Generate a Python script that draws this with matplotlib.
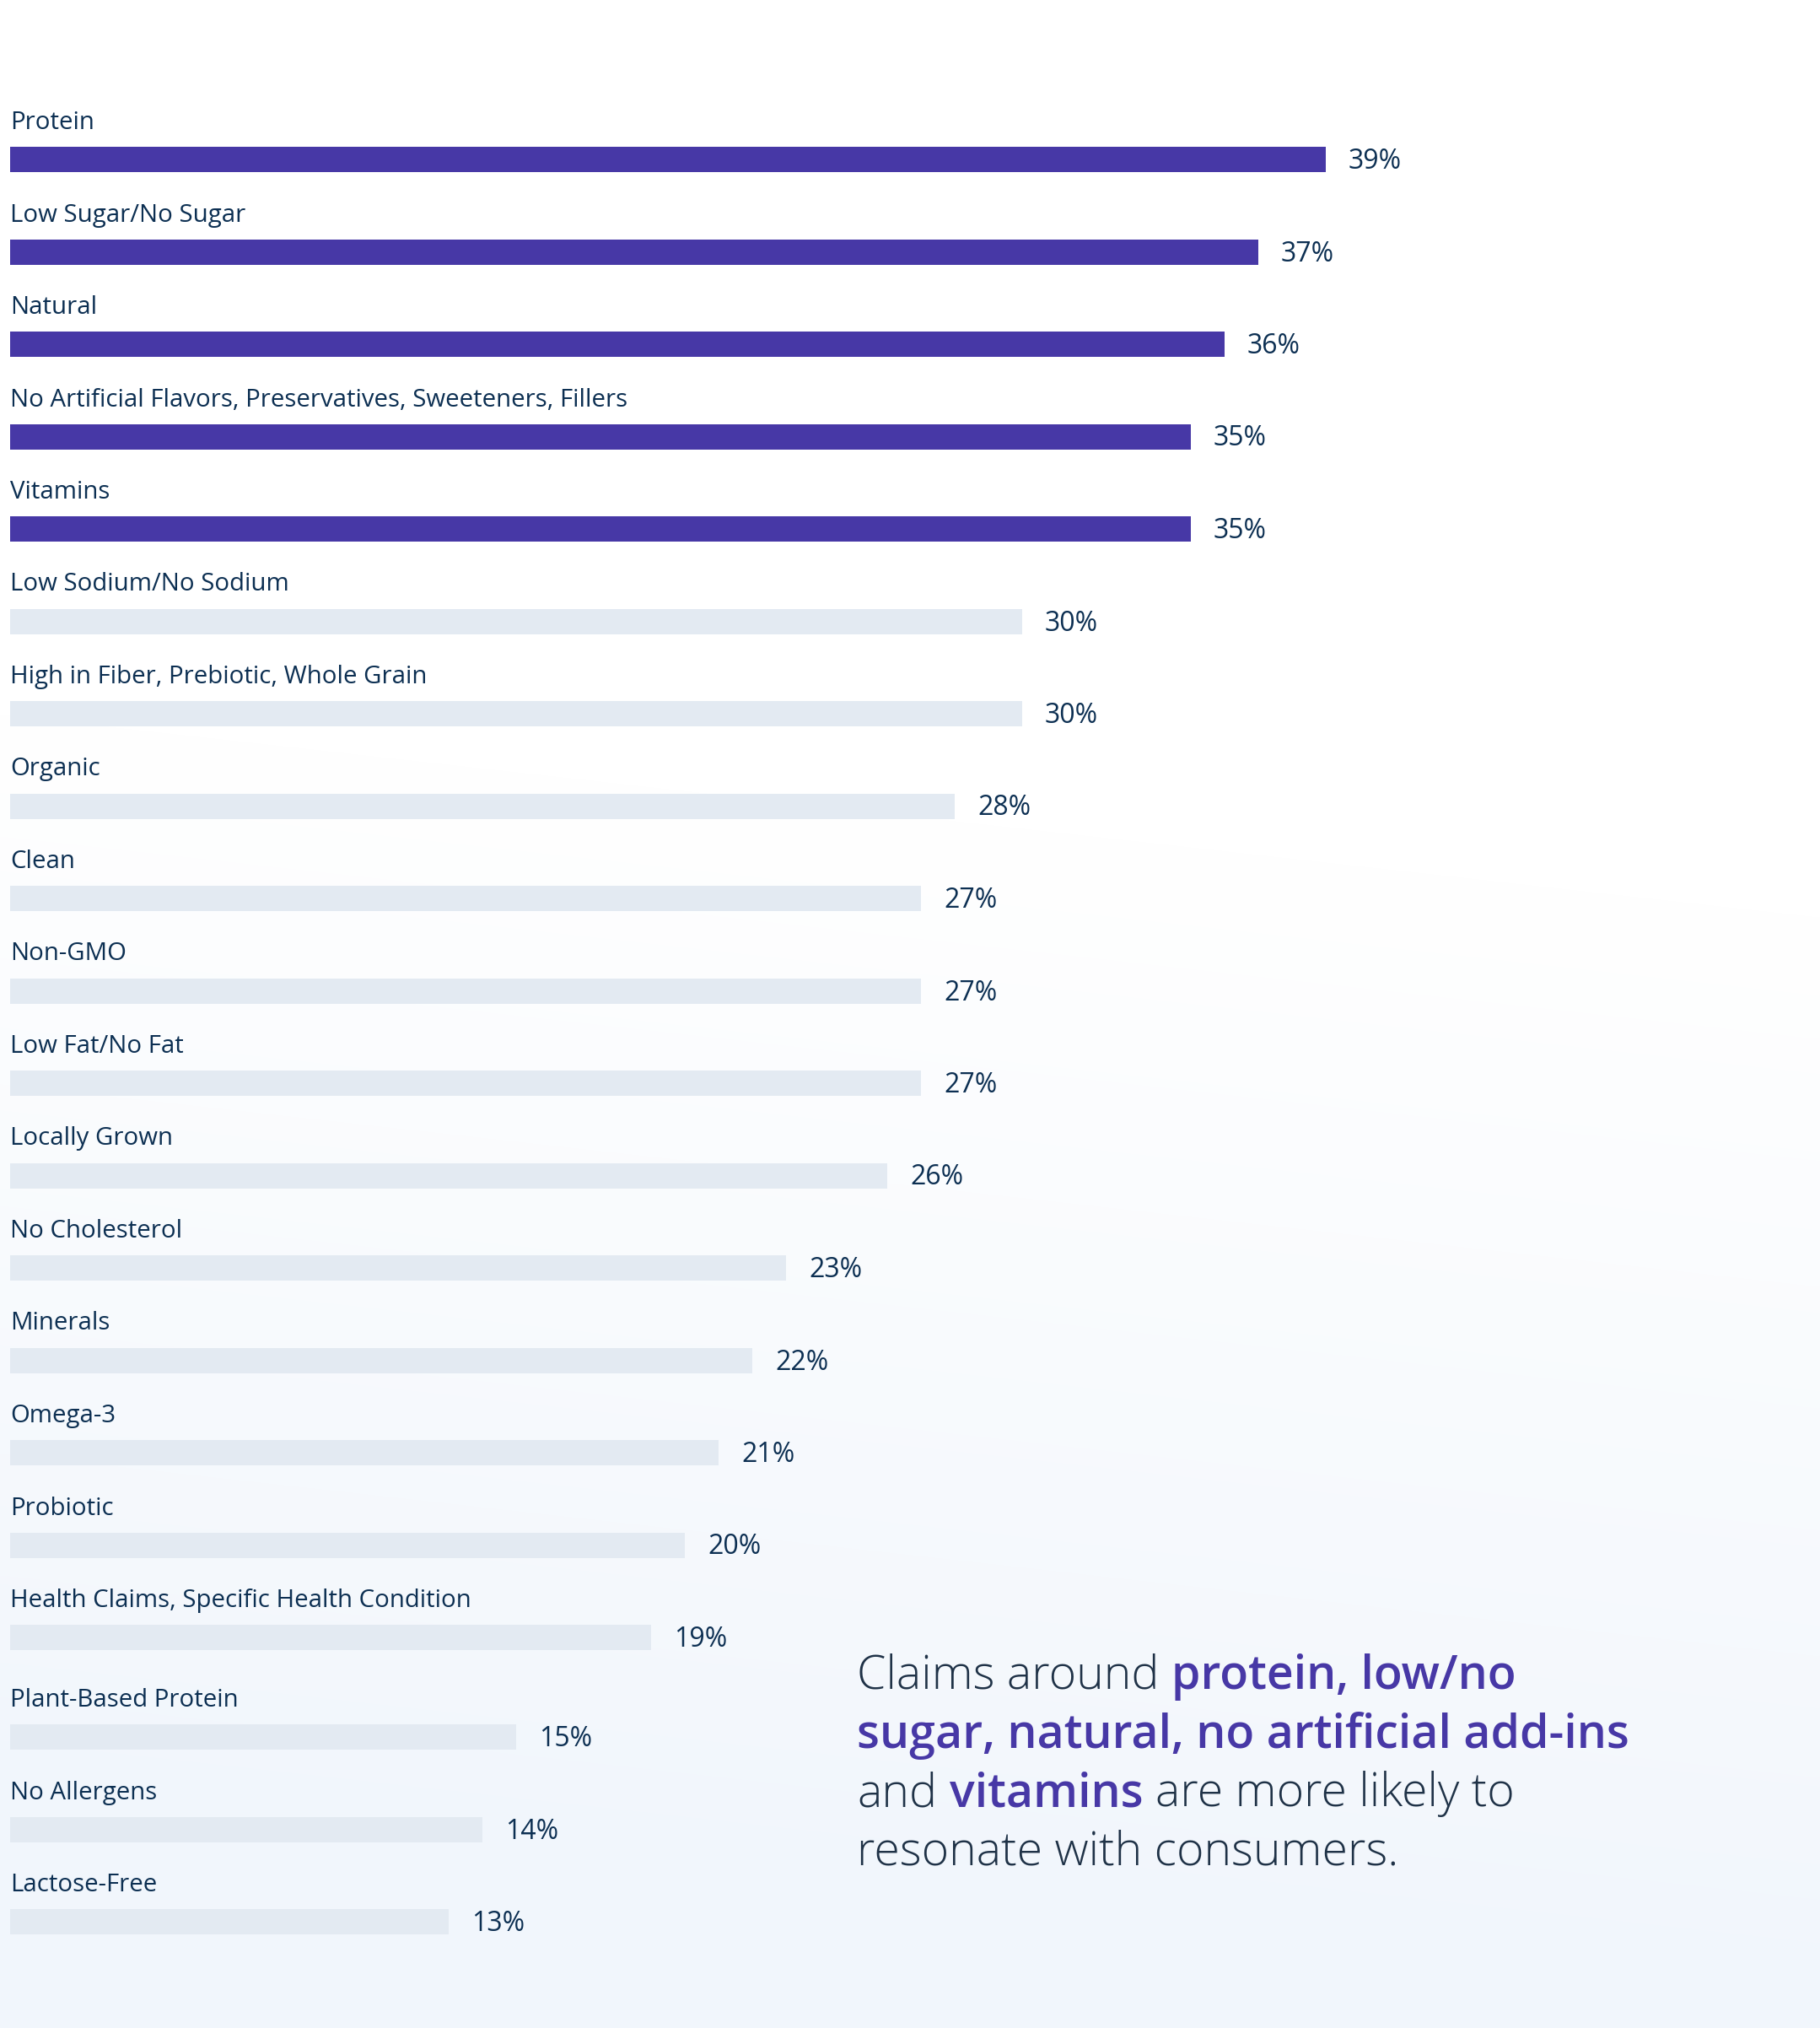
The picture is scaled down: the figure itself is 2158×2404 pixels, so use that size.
import matplotlib
matplotlib.use("Agg")
import matplotlib.pyplot as plt
import numpy as np
from matplotlib.colors import LinearSegmentedColormap

# ---------------- data ----------------
categories = [
    "Protein", "Low Sugar/No Sugar", "Natural",
    "No Artificial Flavors, Preservatives, Sweeteners, Fillers", "Vitamins",
    "Low Sodium/No Sodium", "High in Fiber, Prebiotic, Whole Grain", "Organic",
    "Clean", "Non-GMO", "Low Fat/No Fat", "Locally Grown", "No Cholesterol",
    "Minerals", "Omega-3", "Probiotic", "Health Claims, Specific Health Condition",
    "Plant-Based Protein", "No Allergens", "Lactose-Free",
]
values = [39, 37, 36, 35, 35, 30, 30, 28, 27, 27, 27, 26, 23, 22, 21, 20, 19, 15, 14, 13]
highlight_count = 5

# ---------------- style ----------------
W, H, DPI = 2158, 2404, 100
FONT = "Open Sans"
TEXT_COLOR = "#0c2f52"
PURPLE = "#4738a6"
GREY = "#e3eaf2"
NOTE_COLOR = "#1f3247"

px_per_pct = 40.0      # horizontal scale
left_px = 12.0
row_px = 109.5         # row pitch
first_center_px = 189.0
bar_h_px = 30.0
extra_gap_px = 8.5     # small extra gap before the last three rows

fig = plt.figure(figsize=(W / DPI, H / DPI), dpi=DPI)

# background gradient (white top -> pale blue bottom, slightly diagonal)
bg = fig.add_axes([0, 0, 1, 1], zorder=0)
yy, xx = np.mgrid[0:1:400j, 0:1:360j]
t = np.clip((yy - 0.45 + 0.10 * (1 - xx)) / 0.55, 0, 1)
cmap = LinearSegmentedColormap.from_list("bgc", ["#ffffff", "#f1f6fc"])
bg.imshow(t, cmap=cmap, vmin=0, vmax=1, aspect="auto", extent=[0, 1, 1, 0],
          interpolation="bilinear")
bg.set_xlim(0, 1); bg.set_ylim(1, 0)
bg.axis("off")

ax = fig.add_axes([0, 0, 1, 1], zorder=1)
ax.patch.set_alpha(0)
ax.set_xlim(-left_px / px_per_pct, (W - left_px) / px_per_pct)
ax.set_ylim((H - first_center_px) / row_px, -first_center_px / row_px)
ax.axis("off")

n = len(categories)
ypos = np.arange(n, dtype=float)
ypos[17:] += extra_gap_px / row_px
colors = [PURPLE if i < highlight_count else GREY for i in range(n)]

ax.barh(ypos, values, height=bar_h_px / row_px, left=0, color=colors, linewidth=0)

label_off = 36.0 / row_px
val_off = 11.0 / row_px
for y, cat, v in zip(ypos, categories, values):
    ax.text(0, y - label_off, cat, fontsize=21.2, family=FONT,
            color=TEXT_COLOR, ha="left", va="baseline")
    ax.text(v + 27.0 / px_per_pct, y + val_off, f"{v}%", fontsize=23, family=FONT,
            color=TEXT_COLOR, ha="left", va="baseline")

# ---------------- annotation with mixed styling ----------------
note_lines = [
    [("Claims around ", "n"), ("protein, low/no", "b")],
    [("sugar, natural, no artificial add-ins", "b")],
    [("and ", "n"), ("vitamins", "b"), (" are more likely to", "n")],
    [("resonate with consumers.", "n")],
]
styles = {
    "n": dict(family=FONT, weight=300, color=NOTE_COLOR, fontsize=40),
    "b": dict(family=FONT, weight=600, color=PURPLE, fontsize=40),
}
note_x = 1016.0
note_y0 = 2002.0
note_lh = 69.5

renderer = fig.canvas.get_renderer()


def width_px(s, st):
    tt = fig.text(0, 0, s, **st)
    w = tt.get_window_extent(renderer).width
    tt.remove()
    return w


space_w = {k: width_px("a a", st) - width_px("aa", st) for k, st in styles.items()}

for li, line in enumerate(note_lines):
    x = note_x
    ybase = note_y0 + li * note_lh
    for s, k in line:
        st = styles[k]
        lead = len(s) - len(s.lstrip(" "))
        trail = len(s) - len(s.rstrip(" "))
        core = s.strip(" ")
        x += lead * space_w[k]
        tt = fig.text(x / W, 1 - ybase / H, core, ha="left", va="baseline", **st)
        x += tt.get_window_extent(renderer).width
        x += trail * space_w[k]

fig.savefig("out.png", dpi=DPI)
